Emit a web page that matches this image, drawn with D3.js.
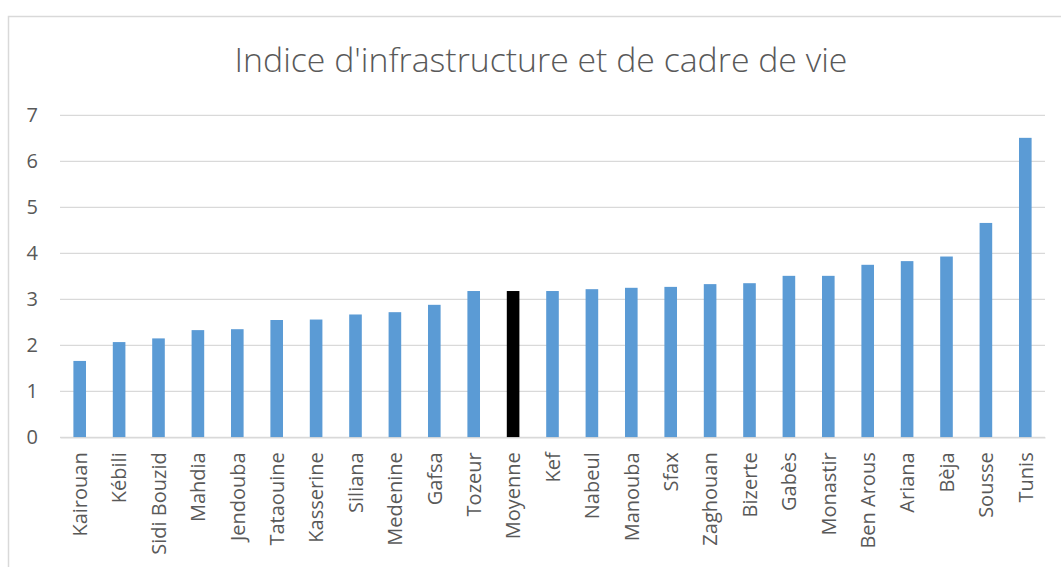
<!DOCTYPE html>
<html><head><meta charset="utf-8">
<script src="https://cdn.jsdelivr.net/npm/d3@7/dist/d3.min.js"></script>
<style>
html,body{margin:0;padding:0;background:#fff;}
svg{display:block;font-family:"Open Sans",sans-serif;}
</style></head>
<body><svg id="c" width="1061" height="567"></svg>
<script>
const categories = ["Kairouan","Kébili","Sidi Bouzid","Mahdia","Jendouba","Tataouine","Kasserine","Siliana","Medenine","Gafsa","Tozeur","Moyenne","Kef","Nabeul","Manouba","Sfax","Zaghouan","Bizerte","Gabès","Monastir","Ben Arous","Ariana","Bèja","Sousse","Tunis"];
const values = [1.66,2.07,2.15,2.33,2.35,2.55,2.56,2.67,2.72,2.88,3.18,3.18,3.18,3.22,3.25,3.27,3.33,3.35,3.51,3.51,3.75,3.83,3.93,4.66,6.51];
const yTicks = [0,1,2,3,4,5,6,7];
const highlight = "Moyenne";
const title = "Indice d'infrastructure et de cadre de vie";

const svg = d3.select("#c");
// chart border
svg.append("rect").attr("x",8.5).attr("y",16.5).attr("width",1070).attr("height",600)
  .attr("fill","none").attr("stroke","#d9d9d9").attr("stroke-width",1.5);

const m = {left:60, right:1045, top:115.3, bottom:437.3};
const x = d3.scaleBand().domain(categories).range([m.left,m.right]).paddingInner(0.68).paddingOuter(0.34);
const y = d3.scaleLinear().domain([0,7]).range([m.bottom,m.top]);

// gridlines
svg.append("g").selectAll("line").data(yTicks).join("line")
  .attr("x1",m.left).attr("x2",m.right).attr("y1",d=>y(d)).attr("y2",d=>y(d))
  .attr("stroke","#d9d9d9").attr("stroke-width",1.3);

// y axis labels
const ya = svg.append("g").attr("transform",`translate(${m.left},0)`)
  .call(d3.axisLeft(y).tickValues(yTicks).tickFormat(d3.format("d")).tickSize(0).tickPadding(22));
ya.select(".domain").remove();
ya.selectAll("text").attr("font-family","'Open Sans',sans-serif").attr("font-size",20).attr("fill","#595959");

// bars
svg.append("g").selectAll("rect").data(categories).join("rect")
  .attr("x",d=>x(d)).attr("width",x.bandwidth())
  .attr("y",(d,i)=>y(values[i])).attr("height",(d,i)=>y(0)-y(values[i]))
  .attr("fill",d=>d===highlight?"#000":"#5b9bd5");

// x axis
const xa = svg.append("g").attr("transform",`translate(0,${m.bottom})`)
  .call(d3.axisBottom(x).tickSize(0).tickPadding(0));
xa.select(".domain").attr("stroke","#d9d9d9").attr("stroke-width",1.3);
xa.selectAll("text").attr("font-family","'Open Sans',sans-serif").attr("font-size",20).attr("fill","#595959")
  .attr("transform","rotate(-90)").attr("text-anchor","end").attr("dy","0.36em").attr("x",-15).attr("y",0);

// title
const t = svg.append("text").attr("x",541).attr("y",72).attr("text-anchor","middle")
  .attr("font-family","'Open Sans',sans-serif").attr("font-weight",300).attr("font-size",29).attr("fill","#595959").text(title);
const w = t.node().getComputedTextLength();
t.attr("font-size",29*613/w);
</script></body></html>
